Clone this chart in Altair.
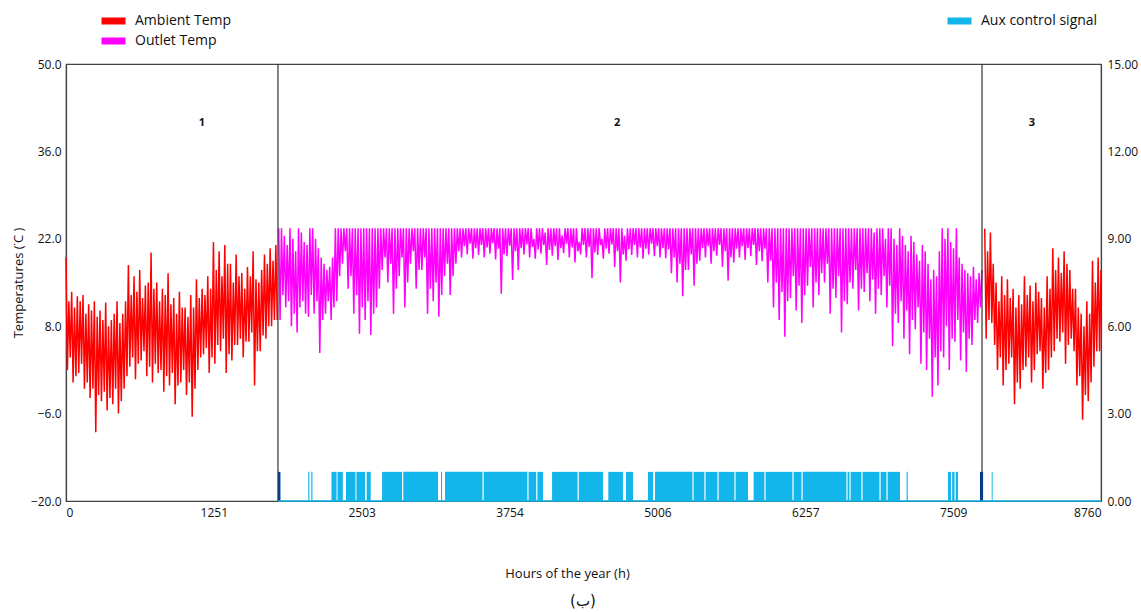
import altair as alt
import pandas as pd

FONT = "Open Sans"
STEP = 12  # hours between successive readings (daily high, then daily low)

# ---------------- data ----------------
# Region 1: ambient temperature, daily highs at 0, 24, ... and lows 12 h later
amb1_start = 0
amb1_hi = [19.0, 12.0, 13.5, 11.0, 12.8, 12.0, 13.0, 10.0, 11.5, 10.5,
           12.0, 9.5, 10.5, 9.0, 11.8, 8.0, 9.0, 10.0, 12.0, 8.5,
           10.0, 12.0, 17.8, 13.0, 16.0, 13.5, 17.0, 12.5, 14.5, 15.0,
           19.8, 14.0, 15.0, 12.0, 14.0, 13.0, 16.5, 11.5, 12.5, 10.0,
           13.5, 11.0, 11.0, 9.5, 13.0, 11.0, 15.5, 12.5, 14.0, 13.0,
           16.0, 14.0, 21.5, 17.0, 20.0, 16.0, 21.0, 18.0, 18.0, 15.0,
           19.5, 16.0, 16.5, 14.0, 17.5, 16.0, 20.0, 15.5, 15.0, 17.0,
           19.5, 18.0, 20.5, 18.5, 21.0]
amb1_lo = [1.0, 3.0, -1.0, 0.0, 0.5, 2.0, -2.0, -1.0, -3.5, -2.0,
           -9.0, -3.0, -4.0, -2.5, -5.5, -3.5, -4.5, -2.0, -6.0, -4.0,
           -2.0, 0.0, 1.5, 3.0, -0.5, 2.0, 2.5, 4.0, 0.0, 1.5,
           -1.0, 2.0, 0.5, 1.0, -2.5, 0.0, -1.5, 0.5, -4.5, -1.5,
           -1.0, 1.0, -3.0, -1.0, -6.5, -2.0, 1.0, 3.0, 3.5, 4.5,
           0.5, 3.0, 2.0, 5.0, 4.0, 6.0, 0.5, 3.5, 2.5, 5.0,
           5.0, 6.0, 3.0, 5.5, 5.5, 7.0, -1.5, 4.0, 4.0, 6.5,
           6.0, 8.0, 8.0, 9.0, 9.0]

# Region 2: outlet temperature, daily highs from hour 1800, lows 12 h later
out_start = 1800
out_hi = [23.7, 23.7, 22.5, 21.0, 23.7, 22.0, 20.0, 23.7, 23.0, 21.5,
          21.0, 23.7, 23.7, 22.0, 20.5, 19.0, 18.0, 17.0, 17.5, 19.0,
          23.7, 23.7, 23.7, 23.7, 23.7, 23.7, 23.7, 23.7, 23.7, 23.7,
          23.7, 23.7, 23.7, 23.7, 23.7, 23.7, 23.7, 23.7, 23.7, 23.7,
          23.7, 23.7, 23.7, 23.7, 23.7, 23.7, 23.7, 23.7, 23.7, 23.7,
          23.7, 23.7, 23.7, 23.7, 23.7, 23.7, 23.7, 23.7, 23.7, 23.7,
          23.7, 23.7, 23.7, 23.7, 23.7, 23.7, 23.7, 23.7, 23.7, 23.7,
          23.7, 23.7, 23.7, 23.7, 23.7, 23.7, 23.7, 23.7, 23.7, 23.7,
          23.7, 23.7, 23.7, 23.7, 23.7, 23.7, 23.7, 23.7, 23.7, 23.7,
          22.0, 23.7, 23.7, 23.7, 23.0, 23.7, 23.7, 23.7, 23.7, 23.7,
          22.5, 23.7, 23.7, 23.7, 23.7, 23.7, 21.5, 23.7, 23.7, 23.7,
          23.7, 23.7, 23.7, 23.7, 22.0, 23.7, 23.7, 23.7, 23.7, 23.7,
          23.7, 23.7, 22.5, 23.7, 23.7, 23.7, 23.7, 23.7, 23.7, 23.7,
          23.7, 23.7, 23.7, 23.7, 23.7, 23.7, 23.7, 23.7, 23.7, 23.7,
          23.7, 23.7, 23.7, 23.7, 23.7, 23.7, 23.7, 23.7, 23.7, 23.7,
          23.7, 23.7, 23.7, 23.7, 23.7, 23.7, 23.7, 23.7, 23.7, 23.7,
          23.7, 23.7, 23.7, 23.7, 23.7, 23.7, 23.7, 23.7, 23.7, 23.7,
          23.7, 23.7, 23.7, 23.7, 23.7, 23.7, 23.7, 23.7, 23.7, 23.7,
          23.7, 23.7, 23.7, 23.7, 23.7, 23.7, 23.7, 23.7, 23.7, 23.7,
          23.7, 23.7, 23.7, 23.7, 23.7, 23.7, 23.7, 23.7, 23.7, 23.7,
          23.7, 23.7, 23.7, 23.7, 23.7, 23.7, 23.7, 23.7, 23.7, 23.7,
          23.0, 23.7, 23.7, 23.7, 22.0, 23.7, 23.7, 22.0, 21.0, 23.7,
          22.5, 21.0, 20.0, 22.5, 21.5, 19.5, 18.5, 21.0, 20.0, 18.0,
          15.5, 17.0, 16.0, 20.0, 23.7, 22.0, 23.7, 21.5, 20.5, 23.7,
          19.0, 18.0, 17.0, 16.5, 16.0, 17.5, 15.5, 16.5, 17.0]
out_lo = [9.0, 13.0, 11.0, 12.0, 8.0, 10.0, 7.0, 11.0, 12.0, 10.0,
          9.5, 13.0, 10.0, 12.0, 3.7, 9.0, 10.0, 12.0, 9.0, 11.0,
          12.0, 16.0, 18.0, 20.0, 14.0, 16.0, 10.0, 13.0, 6.8, 11.0,
          9.0, 12.0, 6.6, 10.0, 11.0, 14.0, 17.0, 19.0, 15.0, 18.0,
          10.0, 14.0, 16.0, 19.0, 11.0, 15.0, 18.0, 20.0, 14.0, 17.0,
          17.0, 19.0, 10.0, 14.0, 12.0, 15.0, 9.5, 13.0, 16.0, 18.0,
          13.0, 16.0, 18.0, 20.0, 19.0, 20.8, 19.5, 21.2, 18.8, 20.5,
          19.4, 21.0, 19.0, 20.6, 19.6, 21.3, 18.7, 20.4, 13.2, 19.5,
          19.2, 20.9, 15.4, 20.0, 17.0, 20.5, 19.5, 21.1, 19.0, 20.7,
          18.8, 20.3, 19.6, 21.0, 17.8, 20.2, 19.3, 20.8, 18.6, 20.5,
          19.7, 21.2, 19.0, 20.6, 18.2, 20.0, 19.5, 21.0, 19.0, 20.7,
          15.7, 19.8, 19.4, 21.0, 18.8, 20.4, 19.6, 21.1, 17.5, 20.0,
          15.0, 19.5, 18.5, 20.3, 19.4, 21.0, 19.0, 20.6, 18.8, 20.4,
          19.5, 21.2, 19.2, 20.8, 19.0, 20.5, 18.9, 20.3, 16.5, 19.0,
          15.0, 18.0, 12.8, 17.0, 17.0, 19.5, 14.5, 18.0, 18.5, 20.5,
          19.0, 20.8, 18.0, 20.0, 19.3, 21.0, 17.5, 20.0, 15.3, 19.0,
          18.2, 20.4, 19.0, 20.8, 18.6, 20.5, 19.2, 21.0, 17.8, 20.0,
          18.4, 20.4, 15.0, 18.5, 11.0, 15.0, 9.0, 13.5, 6.3, 12.0,
          12.5, 16.0, 10.5, 14.5, 8.5, 13.0, 14.5, 17.5, 11.0, 15.0,
          13.0, 16.5, 15.0, 18.0, 10.0, 14.0, 12.5, 16.0, 7.0, 12.0,
          11.5, 15.0, 14.0, 17.0, 10.5, 14.0, 13.5, 16.5, 12.0, 15.5,
          10.0, 14.0, 13.0, 16.0, 11.0, 14.5, 4.8, 10.0, 8.5, 12.0,
          6.0, 10.5, 3.5, 9.0, 7.5, 11.0, 2.0, 7.0, 1.0, 6.0,
          -3.3, 3.0, -1.5, 4.0, 3.0, 8.0, 1.0, 6.0, 5.5, 9.0,
          2.5, 7.0, 0.7, 6.0, 5.0, 9.0, 8.5, 11.0]

# Region 3: ambient temperature, daily highs from hour 7776, lows 12 h later
amb3_start = 7776
amb3_hi = [23.6, 20.0, 23.0, 18.0, 15.0, 12.0, 16.0, 13.0, 15.5, 12.5,
           14.0, 11.0, 13.0, 11.5, 16.0, 13.0, 14.5, 12.0, 15.0, 13.5,
           12.5, 11.0, 16.0, 14.0, 20.5, 17.0, 19.0, 16.5, 20.0, 18.0,
           17.0, 14.0, 14.0, 11.0, 10.0, 8.0, 12.0, 10.0, 18.5, 15.0,
           19.0, 17.0]
amb3_lo = [6.0, 9.0, 8.5, 5.0, 1.0, 3.0, -1.5, 1.0, 2.0, 3.0,
           -4.5, -1.0, -2.0, 1.0, 1.5, 3.0, -1.0, 1.0, 3.5, 4.0,
           -2.0, 0.5, 1.0, 3.0, 4.0, 6.0, 5.5, 7.0, 2.0, 5.0,
           6.0, 4.0, -1.5, 0.0, -7.0, -3.0, -4.0, -1.0, 1.5, 4.0,
           4.0]

# Aux control signal: hours where signal = 1
aux_on_start = [2050, 2076, 2247, 2298, 2370, 2458, 2545, 2675, 2855, 3174,
                3208, 3535, 3915, 3990, 4114, 4340, 4590, 4740, 4926, 4985,
                5312, 5413, 5524, 5667, 5820, 5921, 6158, 6235, 6615, 6641,
                6742, 6895, 6954, 7115, 7465, 7500, 7530, 7835]
aux_on_end = [2060, 2086, 2290, 2343, 2450, 2531, 2579, 2844, 3149, 3183,
              3525, 3905, 3980, 4037, 4330, 4545, 4714, 4799, 4969, 5302,
              5403, 5514, 5657, 5772, 5911, 6148, 6225, 6605, 6631, 6732,
              6885, 6944, 7059, 7125, 7490, 7520, 7550, 7843]
aux_dark_start = [1794, 7736]
aux_dark_end = [1815, 7762]
aux_base_start = [1794]
aux_base_end = [8760]

# Period boundaries and labels
boundaries = [1794, 7753]
region_names = ["1", "2", "3"]
region_hours = [1151, 4664, 8176]
region_temp = [40.5, 40.5, 40.5]

x_ticks = [0, 1251, 2503, 3754, 5006, 6257, 7509, 8760]
temp_ticks = [-20, -6, 8, 22, 36, 50]
aux_ticks = [0, 3, 6, 9, 12, 15]

series_names = ["Ambient Temp", "Outlet Temp"]
series_colors = ["#ff0000", "#ff00ff"]
aux_name = "Aux control signal"
aux_color = "#12b6ea"

# ---------------- tables ----------------
def zig(start, hi, lo, series, seg):
    vals = []
    for i in range(len(hi)):
        vals.append(hi[i])
        if i < len(lo):
            vals.append(lo[i])
    return [{"hour": start + STEP * k, "temp": v, "series": series, "seg": seg}
            for k, v in enumerate(vals)]

rows = (zig(amb1_start, amb1_hi, amb1_lo, "Ambient Temp", "a1")
        + zig(out_start, out_hi, out_lo, "Outlet Temp", "o")
        + zig(amb3_start, amb3_hi, amb3_lo, "Ambient Temp", "a3"))
temp_df = pd.DataFrame(rows)

aux_df = pd.DataFrame({"start": aux_on_start, "end": aux_on_end,
                       "lo": [0] * len(aux_on_start), "hi": [1] * len(aux_on_start),
                       "name": [aux_name] * len(aux_on_start)})
dark_df = pd.DataFrame({"start": aux_dark_start, "end": aux_dark_end,
                        "lo": [0, 0], "hi": [1, 1]})
base_df = pd.DataFrame({"start": aux_base_start, "end": aux_base_end, "lo": [0]})
sep_df = pd.DataFrame({"hour": boundaries})
lab_df = pd.DataFrame({"hour": region_hours, "temp": region_temp, "name": region_names})
cap_df = pd.DataFrame({"t": ["(ب)"]})

# ---------------- scales / axes ----------------
x_scale = alt.Scale(domain=[0, 8760], nice=False, zero=False)
x_axis = alt.Axis(values=x_ticks, format="d", title="Hours of the year (h)",
                  ticks=False, labelPadding=6, titlePadding=49, titleX=501,
                  labelFontSize=12, titleFontSize=13, titleFontWeight="normal")
ty_scale = alt.Scale(domain=[-20, 50], nice=False, zero=False)
ty_axis = alt.Axis(values=temp_ticks, format=".1f", title="Temperatures (˙C )",
                   ticks=False, labelPadding=5, titlePadding=5,
                   labelFontSize=12, titleFontSize=13, titleFontWeight="normal")
ay_scale = alt.Scale(domain=[0, 15], nice=False, zero=False)
ay_axis = alt.Axis(values=aux_ticks, format=".2f", title=None, orient="right",
                   ticks=False, labelPadding=6, labelFontSize=12)

X = lambda f: alt.X(f, scale=x_scale, axis=x_axis)
TY = lambda f: alt.Y(f, scale=ty_scale, axis=ty_axis)
AY = lambda f: alt.Y(f, scale=ay_scale, axis=ay_axis)

# ---------------- temperature group ----------------
lines = alt.Chart(temp_df).mark_line(strokeWidth=1.5, strokeJoin="bevel").encode(
    x=X("hour:Q"),
    y=TY("temp:Q"),
    color=alt.Color("series:N",
                    scale=alt.Scale(domain=series_names, range=series_colors),
                    legend=alt.Legend(title=None, orient="none", legendX=32, legendY=-53,
                                      symbolType="stroke", symbolStrokeWidth=7,
                                      symbolSize=576, labelFontSize=14, labelFont=FONT,
                                      labelOffset=6, rowPadding=0, clipHeight=20,
                                      padding=0)),
    detail="seg:N",
)
seps = alt.Chart(sep_df).mark_rule(color="#333333", strokeWidth=1.2).encode(x=X("hour:Q"))
labels = alt.Chart(lab_df).mark_text(fontWeight="bold", fontSize=11, font=FONT,
                                     color="#111111").encode(
    x=X("hour:Q"), y=TY("temp:Q"), text="name:N")
caption = alt.Chart(cap_df).mark_text(fontSize=15, font="DejaVu Sans", color="#111111").encode(
    x=alt.value(517), y=alt.value(537), text="t:N")

temp_group = alt.layer(lines, seps, labels, caption)

# ---------------- aux group ----------------
aux_rects = alt.Chart(aux_df).mark_rect(strokeWidth=0).encode(
    x=X("start:Q"), x2="end:Q",
    y=AY("lo:Q"), y2="hi:Q",
    color=alt.Color("name:N",
                    scale=alt.Scale(domain=[aux_name], range=[aux_color]),
                    legend=alt.Legend(title=None, orient="none", legendX=878, legendY=-53,
                                      symbolType="stroke", symbolStrokeWidth=7,
                                      symbolStrokeColor=aux_color,
                                      symbolSize=576, labelFontSize=14, labelFont=FONT,
                                      labelOffset=6, clipHeight=20, padding=0)),
)
aux_dark = alt.Chart(dark_df).mark_rect(color="#0b3a8c", strokeWidth=0).encode(
    x=X("start:Q"), x2="end:Q", y=AY("lo:Q"), y2="hi:Q")
aux_base = alt.Chart(base_df).mark_rule(color=aux_color, strokeWidth=1.5).encode(
    x=X("start:Q"), x2="end:Q", y=AY("lo:Q"))

aux_group = alt.layer(aux_rects, aux_dark, aux_base)

chart = alt.layer(temp_group, aux_group).resolve_scale(
    y="independent", color="independent"
).properties(
    width=1035, height=437,
    padding={"left": 66, "top": 64, "right": 40, "bottom": 111},
    autosize=alt.AutoSizeParams(type="none"),
    background="white",
).configure_view(
    stroke="#444444", strokeWidth=1.2
).configure_axis(
    domainColor="#444444", domainWidth=1.2, grid=False,
    labelFont=FONT, titleFont=FONT, labelColor="#111111", titleColor="#111111",
).configure_legend(labelColor="#111111")

chart.save("out.html", embed_options={"renderer": "svg", "actions": False})
